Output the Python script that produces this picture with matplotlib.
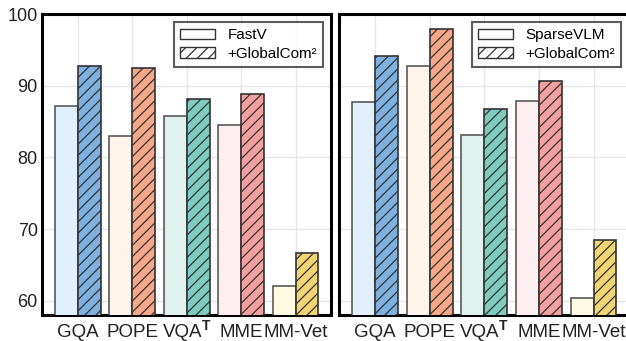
import matplotlib.pyplot as plt
import numpy as np

plt.rcParams['font.family'] = ['Liberation Sans', 'DejaVu Sans']
plt.rcParams['hatch.linewidth'] = 0.9

# benchmarks and scores
benchmarks = ['GQA', 'POPE', 'VQA', 'MME', 'MM-Vet']
superscripts = ['', '', 'T', '', '']
fastv = [87.2, 83.0, 85.8, 84.5, 62.1]
fastv_gc = [92.7, 92.4, 88.1, 88.8, 66.7]
sparsevlm = [87.7, 92.7, 83.1, 87.9, 60.4]
sparsevlm_gc = [94.2, 97.9, 86.7, 90.7, 68.4]

light = ['#dfeffb', '#fff4ea', '#dff2f0', '#fdeeef', '#fdf9e3']
dark = ['#7eb0e0', '#f8a888', '#7ecbbf', '#f4a0a0', '#f2d572']

fig = plt.figure(figsize=(6.26, 3.41), dpi=100)
ax1 = fig.add_axes([42/626, 26/341, 289/626, 301/341])
ax2 = fig.add_axes([339/626, 26/341, 290/626, 301/341])

x = np.arange(len(benchmarks))
w = 0.42

for ax, base, comp, name in [(ax1, fastv, fastv_gc, 'FastV'),
                             (ax2, sparsevlm, sparsevlm_gc, 'SparseVLM')]:
    ax.bar(x - w/2, base, w, color=light, edgecolor='#5a5a5a', linewidth=1.2, zorder=3)
    ax.bar(x + w/2, comp, w, color=dark, edgecolor='#333333', linewidth=1.2,
           hatch='///', zorder=3)
    ax.set_ylim(58, 100)
    ax.set_xlim(-0.66, 4.65)
    ax.set_xticks(x)
    ax.set_xticklabels([])
    # benchmark names on a common baseline; the T of VQA is a separate bold superscript
    for i, (lab, sup) in enumerate(zip(benchmarks, superscripts)):
        dx = -3 if sup else 0
        ax.annotate(lab, xy=(i, 0), xycoords=('data', 'axes fraction'),
                    xytext=(dx, -16), textcoords='offset points',
                    ha='center', va='baseline', fontsize=13.5, color='#222222')
        if sup:
            ax.annotate(sup, xy=(i, 0), xycoords=('data', 'axes fraction'),
                        xytext=(dx + 13.6, -11), textcoords='offset points',
                        ha='left', va='baseline', fontsize=10, fontweight='bold',
                        color='#222222')
    ax.set_yticks([60, 70, 80, 90, 100])
    ax.tick_params(length=0, pad=3, labelsize=13, colors='#222222')
    ax.grid(True, color='#e6e6e6', linewidth=1, zorder=0)
    for s in ax.spines.values():
        s.set_linewidth(2.2)
        s.set_color('black')
    # legend handles: plain white box and hatched white box
    h1 = plt.Rectangle((0, 0), 1, 1, facecolor='white', edgecolor='#333333', linewidth=1)
    h2 = plt.Rectangle((0, 0), 1, 1, facecolor='white', edgecolor='#333333', linewidth=1,
                       hatch='///')
    leg = ax.legend([h1, h2], [name, '+GlobalCom²'], loc='upper right',
                    fontsize=11, frameon=True, fancybox=False, edgecolor='#333333',
                    handlelength=2.3, handleheight=0.7, borderpad=0.4,
                    labelspacing=0.3, handletextpad=0.8, borderaxespad=0,
                    bbox_to_anchor=(0.973, 0.973))
    leg.get_frame().set_linewidth(1.5)

ax2.set_yticklabels([])

plt.savefig('out.png', dpi=100)
